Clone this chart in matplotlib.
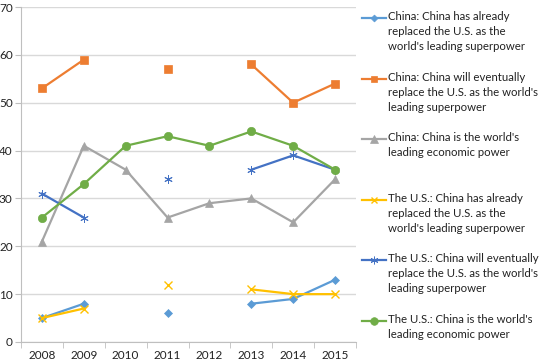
import numpy as np
import matplotlib.pyplot as plt
from matplotlib.lines import Line2D

plt.rcParams['font.family'] = ['Lato', 'DejaVu Sans']

years = ['2008', '2009', '2010', '2011', '2012', '2013', '2014', '2015']
nan = np.nan
china_already = [5, 8, nan, 6, nan, 8, 9, 13]
china_eventually = [53, 59, nan, 57, nan, 58, 50, 54]
china_economic = [21, 41, 36, 26, 29, 30, 25, 34]
us_already = [5, 7, nan, 12, nan, 11, 10, 10]
us_eventually = [31, 26, nan, 34, nan, 36, 39, 36]
us_economic = [26, 33, 41, 43, 41, 44, 41, 36]

labels = [
    "China: China has already\nreplaced the U.S. as the\nworld's leading superpower",
    "China: China will eventually\nreplace the U.S. as the world's\nleading superpower",
    "China: China is the world's\nleading economic power",
    "The U.S.: China has already\nreplaced the U.S. as the\nworld's leading superpower",
    "The U.S.: China will eventually\nreplace the U.S. as the world's\nleading superpower",
    "The U.S.: China is the world's\nleading economic power",
]
series = [china_already, china_eventually, china_economic,
          us_already, us_eventually, us_economic]
colors = ['#5B9BD5', '#ED7D31', '#A5A5A5', '#FFC000', '#4472C4', '#70AD47']
markers = ['D', 's', '^', 'x', (6, 2, 0), 'o']
msizes = [4, 5.5, 6, 5.5, 6, 6]
mews = [0.5, 0.5, 0.5, 1.0, 0.7, 0.5]

fig = plt.figure(figsize=(5.42, 3.63), dpi=100)
ax = fig.add_axes([21 / 542, 1 - 342 / 363, 335 / 542, 335 / 363])

x = np.arange(len(years))
for vals, c, m, ms, mw in zip(series, colors, markers, msizes, mews):
    ax.plot(x, vals, color=c, lw=1.6, marker=m, ms=ms, mew=mw)

ax.set_xlim(-0.5, 7.5)
ax.set_ylim(0, 70)
ax.set_yticks(range(0, 71, 10))
ax.set_xticks(x)
ax.set_xticklabels(years)
ax.set_xticks(np.arange(-0.5, 8, 1), minor=True)
ax.tick_params(axis='x', which='major', length=0, labelsize=8.5, pad=6, colors='#222222')
ax.tick_params(axis='x', which='minor', length=4, color='#BFBFBF')
ax.tick_params(axis='y', length=4, color='#BFBFBF', labelsize=8.5, pad=2, labelcolor='#222222')
ax.grid(axis='y', color='#D9D9D9', lw=1)
ax.set_axisbelow(True)
for s in ['top', 'right']:
    ax.spines[s].set_visible(False)
for s in ['left', 'bottom']:
    ax.spines[s].set_color('#BFBFBF')

# legend drawn entry by entry so the marker lines up with the first text line
ys = [18, 79, 139, 200, 260, 321]
for lab, c, m, ms, mw, yy in zip(labels, colors, markers, msizes, mews, ys):
    fy = 1 - yy / 363
    fig.add_artist(Line2D([362 / 542, 386 / 542], [fy, fy], color=c, lw=1.6,
                          transform=fig.transFigure))
    fig.add_artist(Line2D([374 / 542], [fy], color=c, marker=m, ms=ms - 0.5,
                          mew=mw, transform=fig.transFigure))
    fig.text(388 / 542, fy + 7 / 363, lab, fontsize=8.2, va='top', ha='left',
             linespacing=1.45, color='#222222')

fig.savefig('out.png', dpi=100)
